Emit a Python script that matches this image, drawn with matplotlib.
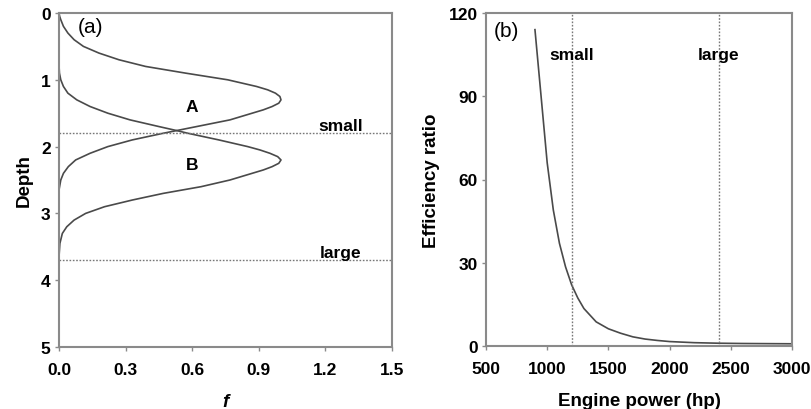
import matplotlib
matplotlib.use("Agg")
import matplotlib.pyplot as plt

# ---- data: panel (a) ----
depth_A = [0.00, 0.05, 0.10, 0.20, 0.30, 0.40, 0.50, 0.60, 0.70, 0.80, 0.90, 1.00, 1.10, 1.15, 1.20, 1.25, 1.30,
           1.35, 1.40, 1.45, 1.50, 1.60, 1.70, 1.80, 1.90, 2.00, 2.10, 2.20, 2.30, 2.40, 2.50, 2.65]
f_A = [0.000, 0.003, 0.008, 0.020, 0.040, 0.068, 0.110, 0.180, 0.270, 0.390, 0.570, 0.760, 0.890, 0.940, 0.975, 0.995, 1.000,
       0.990, 0.960, 0.920, 0.870, 0.770, 0.620, 0.470, 0.330, 0.220, 0.140, 0.075, 0.042, 0.020, 0.008, 0.000]

depth_B = [0.78, 0.90, 1.00, 1.10, 1.20, 1.30, 1.40, 1.50, 1.60, 1.70, 1.76, 1.80, 1.90, 2.00, 2.05, 2.10, 2.15, 2.20,
           2.25, 2.30, 2.35, 2.40, 2.50, 2.60, 2.70, 2.80, 2.90, 3.00, 3.10, 3.20, 3.30, 3.45, 3.65]
f_B = [0.000, 0.002, 0.008, 0.020, 0.040, 0.080, 0.140, 0.220, 0.320, 0.450, 0.530, 0.580, 0.720, 0.850, 0.905, 0.950, 0.985, 1.000,
       0.990, 0.960, 0.920, 0.870, 0.770, 0.640, 0.470, 0.330, 0.205, 0.120, 0.068, 0.035, 0.015, 0.004, 0.000]

depth_lines = [1.8, 3.7]
depth_line_labels = ["small", "large"]
a_xticks = [0.0, 0.3, 0.6, 0.9, 1.2, 1.5]
a_xticklabels = ["0.0", "0.3", "0.6", "0.9", "1.2", "1.5"]
a_yticks = [0, 1, 2, 3, 4, 5]

# ---- data: panel (b) ----
power = [900, 950, 1000, 1050, 1100, 1150, 1200, 1250, 1300, 1400, 1500, 1600, 1700, 1800, 1900, 2000,
         2200, 2400, 2600, 2800, 3000]
ratio = [114, 90, 66, 49, 37, 28.5, 22, 17.3, 13.5, 8.7, 6.2, 4.6, 3.3, 2.5, 2.0, 1.6,
         1.2, 1.0, 0.9, 0.85, 0.8]
power_lines = [1200, 2400]
power_line_labels = ["small", "large"]
b_xticks = [500, 1000, 1500, 2000, 2500, 3000]
b_yticks = [0, 30, 60, 90, 120]

plt.rcParams['font.family'] = ['Liberation Sans', 'DejaVu Sans']

spine_col = '#8a8a8a'
line_col = '#4a4a4a'
TICK_FS = 12.5
LAB_FS = 13.5

fig = plt.figure(figsize=(8.12, 4.10), dpi=100)
ax1 = fig.add_axes([59/812, 1-348/410, 333/812, 334/410])
ax2 = fig.add_axes([486/812, 1-347/410, 306/812, 333/410])

for ax in (ax1, ax2):
    for s in ax.spines.values():
        s.set_color(spine_col)
        s.set_linewidth(1.5)
    ax.tick_params(direction='out', length=3, width=1, color=spine_col)
    ax.tick_params(axis='y', pad=3)
    ax.tick_params(axis='x', pad=8)

# panel (a)
ax1.plot(f_A, depth_A, color=line_col, lw=1.2)
ax1.plot(f_B, depth_B, color=line_col, lw=1.2)
for d, lab in zip(depth_lines, depth_line_labels):
    ax1.axhline(d, color='#777777', lw=1.0, ls=(0, (1.2, 1.2)))
    ax1.text(1.27, d - 0.05, lab, ha='center', va='baseline', fontsize=TICK_FS, fontweight='bold')
ax1.text(0.6, 1.40, "A", ha='center', va='center', fontsize=TICK_FS, fontweight='bold')
ax1.text(0.6, 2.27, "B", ha='center', va='center', fontsize=TICK_FS, fontweight='bold')
ax1.text(0.144, 0.2, "(a)", ha='center', va='center', fontsize=15)
ax1.set_xlim(0, 1.5)
ax1.set_ylim(5, 0)
ax1.set_xticks(a_xticks)
ax1.set_xticklabels(a_xticklabels, fontweight='bold', fontsize=TICK_FS)
ax1.set_yticks(a_yticks)
ax1.set_yticklabels([str(t) for t in a_yticks], fontweight='bold', fontsize=TICK_FS)
ax1.set_ylabel("Depth", fontsize=LAB_FS, fontweight='bold', labelpad=6)
ax1.set_xlabel("f", fontsize=LAB_FS, fontweight='bold', style='italic', labelpad=11)

# panel (b)
ax2.plot(power, ratio, color=line_col, lw=1.2)
for p, lab in zip(power_lines, power_line_labels):
    ax2.axvline(p, color='#777777', lw=1.0, ls=(0, (1.2, 1.2)))
    ax2.text(p, 105, lab, ha='center', va='center', fontsize=TICK_FS, fontweight='bold')
ax2.text(663, 113.6, "(b)", ha='center', va='center', fontsize=15)
ax2.set_xlim(500, 3000)
ax2.set_ylim(0, 120)
ax2.set_xticks(b_xticks)
ax2.set_xticklabels([str(t) for t in b_xticks], fontweight='bold', fontsize=TICK_FS)
ax2.set_yticks(b_yticks)
ax2.set_yticklabels([str(t) for t in b_yticks], fontweight='bold', fontsize=TICK_FS)
ax2.set_ylabel("Efficiency ratio", fontsize=LAB_FS, fontweight='bold', labelpad=6)
ax2.set_xlabel("Engine power (hp)", fontsize=LAB_FS, fontweight='bold', labelpad=11)

fig.savefig("out.png", dpi=100)
